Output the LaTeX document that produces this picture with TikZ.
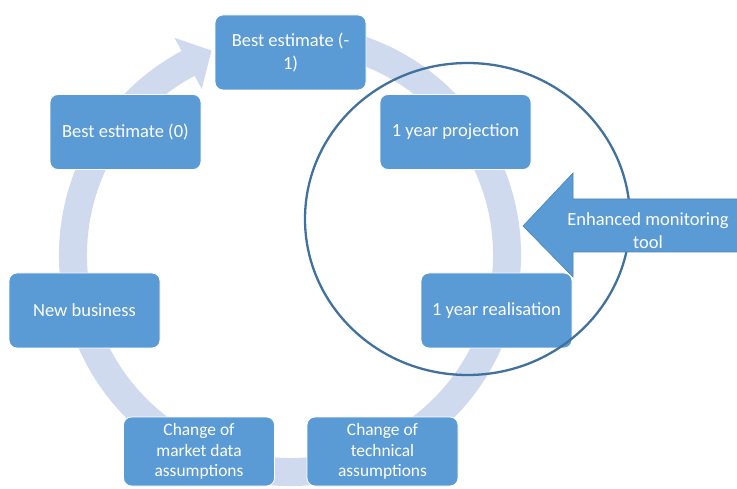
\documentclass[tikz,border=0pt]{standalone}
\usepackage{fontspec}
\setmainfont{Carlito}
\usepackage{tikz}
\usetikzlibrary{arrows,positioning}
\definecolor{boxblue}{HTML}{5B9BD5}
\definecolor{ringblue}{HTML}{CFDAEE}
\definecolor{lineblue}{HTML}{41719C}
\tikzstyle{stage}=[draw=white,line width=0.8pt,fill=boxblue,rounded corners=8pt,minimum width=151pt,minimum height=75pt,text=white,align=center,font=\fontsize{18.5}{23}\selectfont]
\tikzstyle{low stage}=[stage,minimum height=69pt,inner ysep=1pt,font=\fontsize{17.4}{20.5}\selectfont]
\tikzstyle{ring}=[fill=ringblue]
\tikzstyle{scope circle}=[draw=lineblue,line width=2.3pt]
\tikzstyle{monitor}=[fill=boxblue,draw=boxblue!85!black,line width=0.6pt]

\begin{document}
\begin{tikzpicture}[
    x=1pt, y=1pt,
    text centered
    ]
    \useasboundingbox (0,0) rectangle (737,488);
    \coordinate (ctr) at (290,233);

    % cycle ring with its head
    \fill[ring, shift={(ctr)}] (75:231) arc[start angle=75, end angle=-242, radius=231]
        -- (118:246) -- (111:219) -- (118:188) -- (-242:203)
        arc[start angle=-242, end angle=75, radius=203] -- cycle;

    \node[stage](be1) at (290.5,435.5) {Best estimate (-\\1)};
    \node[stage](be0) at (125.5,356) {Best estimate (0)};
    \node[stage](proj) at (455.5,356) {1 year projection};
    \node[stage](newb) at (84.5,177.5) {New business};
    \node[stage](real) at (496.5,177.5) {1 year realisation};
    \node[low stage](market) at (199,36.5) {Change of\\market data\\assumptions};
    \node[low stage](tech) at (382.5,36.5) {Change of\\technical\\assumptions};

    % monitoring scope
    \draw[scope circle] (467.5,269) ellipse [x radius=162.5, y radius=156];

    \coordinate (tip) at (523,262);
    \fill[monitor] (tip) -- (573,315) -- (573,289) -- (750,289)
        -- (750,236) -- (573,236) -- (573,211) -- cycle;
    \node[text=white,align=center,font=\fontsize{18.5}{23}\selectfont](emt) at (648,257) {Enhanced monitoring\\tool};
\end{tikzpicture}
\end{document}
